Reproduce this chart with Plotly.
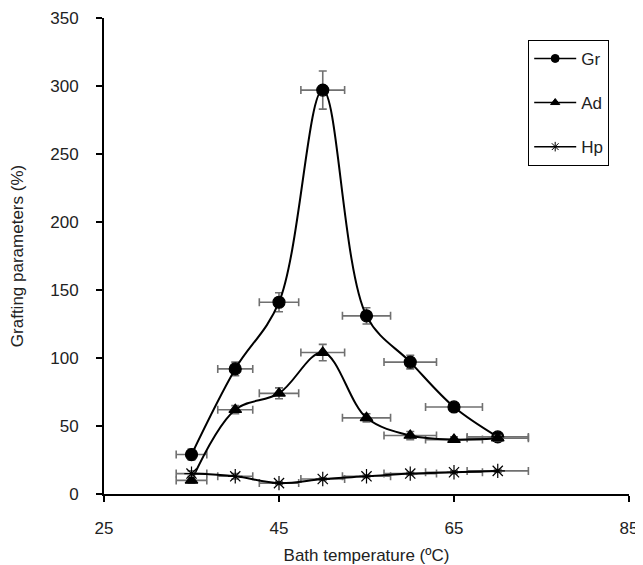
import plotly.graph_objects as go

temps = [35, 40, 45, 50, 55, 60, 65, 70]
temp_err = [1.75, 2.0, 2.25, 2.5, 2.75, 3.0, 3.25, 3.5]

gr = [29, 92, 141, 297, 131, 97, 64, 42]
gr_err = [4, 5, 7, 14, 6, 5, 3, 3]
ad = [10, 62, 74, 104, 56, 43, 40, 41]
ad_err = [2, 3, 4, 6, 3, 3, 2, 2]
hp = [15, 13, 8, 11, 13, 15, 16, 17]
hp_err = [2, 2, 1, 1, 1, 1, 1, 1]

series = [
    ("Gr", gr, gr_err, "circle", 12, 8),
    ("Ad", ad, ad_err, "triangle-up", 11, 8),
    ("Hp", hp, hp_err, "asterisk-open", 12, 8),
]

fig = go.Figure()
for name, vals, errs, sym, size, lsize in series:
    fig.add_trace(go.Scatter(
        x=temps, y=vals, name=name, mode="lines+markers",
        showlegend=False,
        line=dict(color="black", width=2, shape="spline", smoothing=1.0),
        marker=dict(symbol=sym, size=size, color="black",
                    line=dict(color="black", width=1.2)),
        error_x=dict(type="data", array=temp_err, color="#707070",
                     thickness=1.6, width=4),
        error_y=dict(type="data", array=errs, color="#707070",
                     thickness=1.6, width=4),
    ))
# legend entries (smaller legend symbols, as in the original)
for name, vals, errs, sym, size, lsize in series:
    fig.add_trace(go.Scatter(
        x=[None], y=[None], name=name, mode="lines+markers",
        legendgroup=name,
        line=dict(color="black", width=1.5),
        marker=dict(symbol=sym, size=lsize, color="black",
                    line=dict(color="black", width=1)),
    ))

font = dict(family="Liberation Sans, Arial, sans-serif", size=17, color="#222222")

# the page body has an 8px default margin; size/margins compensate for it
fig.update_layout(
    width=635, height=557,
    margin=dict(l=96, r=14, t=10, b=71),
    paper_bgcolor="white", plot_bgcolor="white",
    font=font,
    showlegend=True,
    legend=dict(x=0.808, y=0.954, xanchor="left", yanchor="top",
                bordercolor="black", borderwidth=1, bgcolor="white",
                tracegroupgap=19, font=dict(size=17),
                itemwidth=42),
    xaxis=dict(range=[25, 85], tickvals=[25, 45, 65, 85], showgrid=False,
               zeroline=False, showline=True, linecolor="black", linewidth=2,
               ticks="outside", ticklen=6, tickwidth=2, tickcolor="black",
               ticklabelstandoff=12, automargin=False,
               title=dict(text="Bath temperature (ºC)", font=dict(size=17), standoff=14)),
    yaxis=dict(range=[0, 350], dtick=50, showgrid=False, zeroline=False,
               showline=True, linecolor="black", linewidth=2,
               ticks="outside", ticklen=6, tickwidth=2, tickcolor="black",
               ticklabelstandoff=14, automargin=False,
               title=dict(text="Grafting parameters (%)", font=dict(size=17), standoff=24)),
)

fig.write_html("out.html")
